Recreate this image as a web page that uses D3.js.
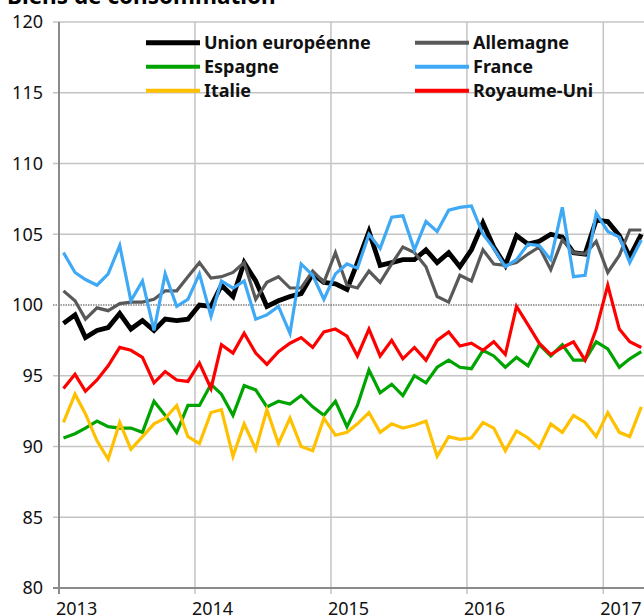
<!DOCTYPE html>
<html>
<head>
<meta charset="utf-8">
<script src="https://cdn.jsdelivr.net/npm/d3@7"></script>
<style>
  body { margin: 0; background: #fff; }
  text { font-family: "Noto Sans", "Open Sans", sans-serif; }
</style>
</head>
<body>
<svg width="644" height="616"></svg>
<script>

// monthly data, Jan 2013 - Apr 2017
var nMonths = 52
var months = d3.range(nMonths).map(function(i){ return new Date(2013, i, 13) })

var seriesNames = ["Union européenne", "Allemagne", "Espagne", "France", "Italie", "Royaume-Uni"]
var seriesColors = ["#000000", "#595959", "#00a400", "#3fa9f5", "#ffc000", "#ff0000"]

var eu = [98.7, 99.3, 97.7, 98.2, 98.4, 99.4, 98.3, 98.9, 98.2, 99.0, 98.9, 99.0,
          100.0, 99.9, 101.4, 100.6, 103.0, 101.7, 99.9, 100.3, 100.6, 100.8, 102.2, 101.6,
          101.5, 101.1, 103.0, 105.2, 102.8, 103.0, 103.2, 103.2, 103.9, 103.0, 103.7, 102.7,
          103.9, 105.8, 104.1, 102.8, 104.9, 104.3, 104.5, 105.0, 104.8, 103.7, 103.6, 106.0,
          105.9, 104.9, 103.4, 105.0]
var de = [101.0, 100.3, 99.0, 99.8, 99.6, 100.1, 100.2, 100.2, 100.4, 101.0, 101.0, 102.0,
          103.0, 101.9, 102.0, 102.3, 103.0, 100.4, 101.6, 102.0, 101.2, 101.2, 102.4, 101.6,
          103.7, 101.4, 101.2, 102.4, 101.6, 102.9, 104.1, 103.7, 102.7, 100.6, 100.2, 102.1,
          101.7, 103.9, 102.9, 102.8, 103.0, 103.6, 104.1, 102.5, 104.6, 103.7, 103.6, 104.5,
          102.3, 103.5, 105.3, 105.3]
var es = [90.6, 90.9, 91.3, 91.8, 91.4, 91.3, 91.3, 91.0, 93.2, 92.2, 91.0, 92.9,
          92.9, 94.4, 93.7, 92.2, 94.3, 94.0, 92.8, 93.2, 93.0, 93.6, 92.8, 92.2,
          93.2, 91.4, 92.9, 95.4, 93.8, 94.4, 93.6, 95.0, 94.5, 95.6, 96.1, 95.6,
          95.5, 96.8, 96.4, 95.6, 96.3, 95.7, 97.2, 96.4, 97.2, 96.1, 96.1, 97.4,
          96.9, 95.6, 96.2, 96.7]
var fr = [103.7, 102.3, 101.8, 101.4, 102.2, 104.2, 100.3, 101.7, 98.2, 102.2, 99.9, 100.4,
          102.2, 99.2, 101.7, 101.2, 101.7, 99.0, 99.3, 99.9, 98.0, 102.9, 102.1, 100.4,
          102.2, 102.9, 102.6, 105.0, 104.0, 106.2, 106.3, 103.9, 105.9, 105.2, 106.7, 106.9,
          107.0, 105.0, 104.0, 102.7, 103.2, 104.3, 104.2, 103.2, 106.9, 102.0, 102.1, 106.5,
          105.2, 104.8, 103.0, 104.6]
var it = [91.7, 93.7, 92.3, 90.4, 89.1, 91.7, 89.8, 90.7, 91.6, 92.0, 92.9, 90.7,
          90.2, 92.4, 92.6, 89.3, 91.6, 89.8, 92.6, 90.2, 92.0, 90.0, 89.7, 92.0,
          90.8, 91.0, 91.6, 92.4, 91.0, 91.6, 91.3, 91.5, 91.8, 89.3, 90.7, 90.5,
          90.6, 91.7, 91.3, 89.7, 91.1, 90.6, 89.9, 91.6, 91.0, 92.2, 91.7, 90.7,
          92.4, 91.0, 90.7, 92.8]
var uk = [94.1, 95.1, 93.9, 94.7, 95.7, 97.0, 96.8, 96.3, 94.5, 95.3, 94.7, 94.6,
          95.9, 94.1, 97.2, 96.6, 98.0, 96.6, 95.8, 96.7, 97.3, 97.7, 97.0, 98.1,
          98.3, 97.8, 96.4, 98.3, 96.4, 97.5, 96.2, 97.0, 96.1, 97.5, 98.1, 97.1,
          97.3, 96.8, 97.4, 96.5, 99.9, 98.6, 97.3, 96.5, 97.0, 97.4, 96.1, 98.3,
          101.4, 98.3, 97.4, 97.0]

var allSeries = [eu, de, es, fr, it, uk]
var yTicks = [80, 85, 90, 95, 100, 105, 110, 115, 120]
var xYears = [2013, 2014, 2015, 2016, 2017]

var svg = d3.select("svg"),
    width = +svg.attr("width"),
    height = +svg.attr("height");

var plotLeft = 59, plotTop = 22, plotBottom = 588

// Scales
var x = d3.scaleTime()
  .domain([new Date(2013, 0, 1), new Date(2017, 0, 1)])
  .range([plotLeft, 603.3])
var y = d3.scaleLinear()
  .domain([80, 120])
  .range([plotBottom, plotTop])

// Title (cut at the top in the original)
svg.append("text")
  .attr("x", 7)
  .attr("y", 4)
  .style("font-size", "22.5px")
  .style("font-weight", "bold")
  .text("Biens de consommation")

// horizontal grid
svg.append("g")
  .selectAll("line")
  .data(yTicks.filter(function(d){ return d != 80 && d != 100 }))
  .enter()
  .append("line")
    .attr("x1", plotLeft - 6)
    .attr("x2", width)
    .attr("y1", function(d){ return y(d) })
    .attr("y2", function(d){ return y(d) })
    .attr("stroke", "#c4c4c4")
    .attr("stroke-width", 1.5)

// vertical grid
svg.append("g")
  .selectAll("line")
  .data(xYears.slice(1))
  .enter()
  .append("line")
    .attr("x1", function(d){ return x(new Date(d, 0, 1)) })
    .attr("x2", function(d){ return x(new Date(d, 0, 1)) })
    .attr("y1", plotTop)
    .attr("y2", plotBottom + 6)
    .attr("stroke", "#c4c4c4")
    .attr("stroke-width", 1.5)

// 100 reference line (dotted)
svg.append("line")
  .attr("x1", plotLeft - 6)
  .attr("x2", width)
  .attr("y1", y(100))
  .attr("y2", y(100))
  .attr("stroke", "#444")
  .attr("stroke-width", 1)
  .style("stroke-dasharray", "1.5,1")

// axes lines
svg.append("line")
  .attr("x1", plotLeft).attr("x2", plotLeft)
  .attr("y1", plotTop).attr("y2", plotBottom + 6)
  .attr("stroke", "#8a8a8a")
  .attr("stroke-width", 2)
svg.append("line")
  .attr("x1", plotLeft - 6).attr("x2", width)
  .attr("y1", plotBottom).attr("y2", plotBottom)
  .attr("stroke", "#8a8a8a")
  .attr("stroke-width", 2)

// y labels
svg.append("g")
  .selectAll("text")
  .data(yTicks)
  .enter()
  .append("text")
    .attr("x", 43)
    .attr("y", function(d){ return y(d) })
    .attr("dy", "0.36em")
    .attr("text-anchor", "end")
    .style("font-size", "18px")
    .style("fill", "#111")
    .text(function(d){ return d })

// x labels
svg.append("g")
  .selectAll("text")
  .data(xYears)
  .enter()
  .append("text")
    .attr("x", function(d){ return x(new Date(d, 0, 1)) - 3 })
    .attr("y", 615)
    .style("font-size", "18px")
    .style("fill", "#111")
    .text(function(d){ return d })

// lines
var line = d3.line()
  .x(function(d, i){ return x(months[i]) })
  .y(function(d){ return y(d) })

svg.append("g")
  .selectAll("path")
  .data(allSeries)
  .enter()
  .append("path")
    .attr("d", function(d){ return line(d) })
    .attr("fill", "none")
    .attr("stroke", function(d, i){ return seriesColors[i] })
    .attr("stroke-width", function(d, i){ return i == 0 ? 4.8 : 3.2 })
    .attr("stroke-linejoin", "miter")

// legend
var legX = [146, 415]
var legY = [42.7, 66.7, 90.7]
var leg = svg.append("g")
  .selectAll("g")
  .data(seriesNames)
  .enter()
  .append("g")
    .attr("transform", function(d, i){ return "translate(" + legX[i % 2] + "," + legY[Math.floor(i / 2)] + ")" })

leg.append("line")
  .attr("x1", 0)
  .attr("x2", 54)
  .attr("stroke", function(d, i){ return seriesColors[i] })
  .attr("stroke-width", function(d, i){ return i == 0 ? 5 : 4 })

leg.append("text")
  .attr("x", 58)
  .attr("dy", "0.36em")
  .style("font-size", "18px")
  .style("font-weight", "bold")
  .style("fill", "#111")
  .text(function(d){ return d })

</script>
</body>
</html>
